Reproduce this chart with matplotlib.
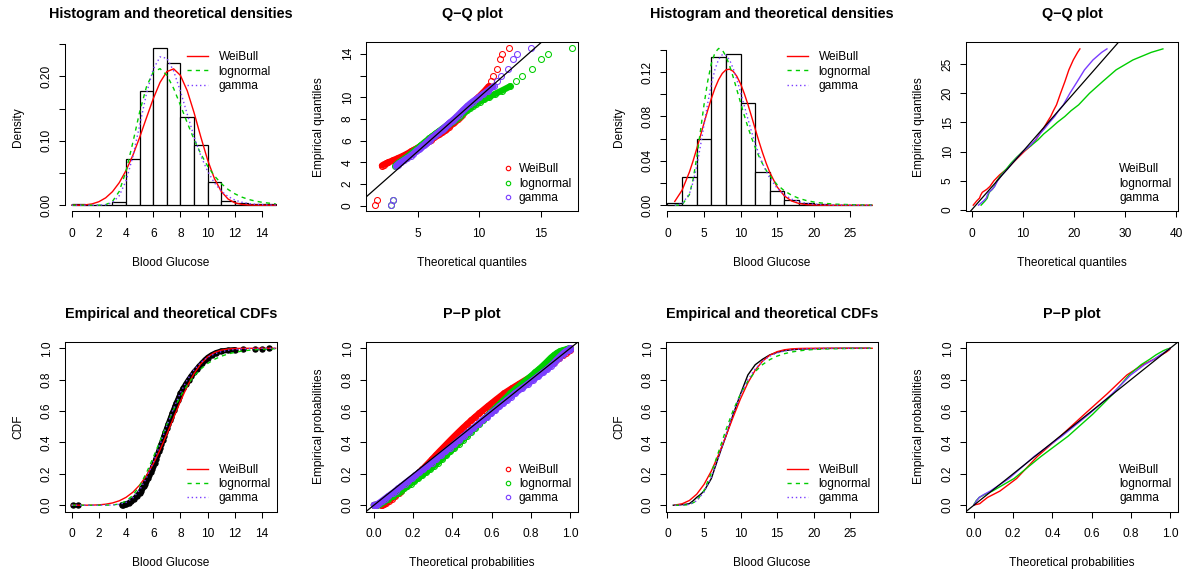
import matplotlib
matplotlib.use("Agg")
import matplotlib.pyplot as plt
from matplotlib.lines import Line2D

plt.rcParams['font.family'] = ['Liberation Sans', 'DejaVu Sans']

# ============================================================
# data
# ============================================================
fit_names = ['WeiBull', 'lognormal', 'gamma']

# ---- sample 1 ----
hist1_breaks = list(range(0, 16))
hist1_density = [0.0026, 0.0, 0.0, 0.0052, 0.072, 0.177, 0.244, 0.221, 0.137,
                 0.094, 0.036, 0.0068, 0.004, 0.0016, 0.0026]

dens1_x = [0, 0.5, 1, 1.5, 2, 2.5, 3, 3.5, 4, 4.5, 5, 5.5, 6, 6.5, 7, 7.5, 8, 8.5,
           9, 9.5, 10, 10.5, 11, 11.5, 12, 12.5, 13, 13.5, 14, 14.5, 15]
weib_dens1 = [0.0, 0.0, 0.0005, 0.0020, 0.0054, 0.0114, 0.0210, 0.0350, 0.0539, 0.0775,
              0.1054, 0.1357, 0.1654, 0.1908, 0.2075, 0.2118, 0.2016, 0.1777, 0.1438,
              0.1058, 0.0701, 0.0413, 0.0214, 0.0096, 0.0037, 0.0012, 0.0003, 0.0001,
              0.0, 0.0, 0.0]
lnorm_dens1 = [0.0, 0.0, 0.0, 0.0, 0.0, 0.0008, 0.0058, 0.0215, 0.0530, 0.0974, 0.1448,
               0.1839, 0.2070, 0.2121, 0.2020, 0.1813, 0.1553, 0.1280, 0.1023, 0.0796,
               0.0607, 0.0455, 0.0336, 0.0245, 0.0177, 0.0127, 0.0090, 0.0064, 0.0045,
               0.0032, 0.0022]
gamma_dens1 = [0.0, 0.0, 0.0, 0.0, 0.0001, 0.0007, 0.0041, 0.0147, 0.0378, 0.0758, 0.1240,
               0.1731, 0.2114, 0.2304, 0.2283, 0.2085, 0.1769, 0.1414, 0.1066, 0.0765,
               0.0526, 0.0347, 0.0220, 0.0135, 0.0081, 0.0047, 0.0026, 0.0014, 0.0008,
               0.0004, 0.0002]

weib_cdf1 = [0.0, 0.0, 0.0001, 0.0007, 0.0024, 0.0065, 0.0144, 0.0282, 0.0503, 0.0828,
             0.1284, 0.1886, 0.2639, 0.3533, 0.4534, 0.5587, 0.6627, 0.7581, 0.8388,
             0.9013, 0.9451, 0.9726, 0.9879, 0.9953, 0.9985, 0.9996, 1.0, 1.0, 1.0, 1.0, 1.0]
lnorm_cdf1 = [0.0, 0.0, 0.0, 0.0, 0.0, 0.0002, 0.0015, 0.0077, 0.0257, 0.0629, 0.1236,
              0.2062, 0.3048, 0.4102, 0.5143, 0.6105, 0.6947, 0.7656, 0.8230, 0.8684,
              0.9033, 0.9297, 0.9494, 0.9638, 0.9742, 0.9818, 0.9872, 0.9910, 0.9937,
              0.9956, 0.9969]
gamma_cdf1 = [0.0, 0.0, 0.0, 0.0, 0.0, 0.0002, 0.0013, 0.0057, 0.0184, 0.0469, 0.0977,
              0.1741, 0.2733, 0.3872, 0.5058, 0.6185, 0.7177, 0.7994, 0.8628, 0.9095,
              0.9423, 0.9643, 0.9785, 0.9874, 0.9928, 0.9960, 0.9978, 0.9988, 0.9994,
              0.9997, 0.9999]

# observations of sample 1 and their empirical probabilities
obs1_x = [0.1, 0.5, 3.7, 3.8, 3.9, 4.0, 4.2, 4.4, 4.6, 4.8,
          5.0, 5.1, 5.2, 5.3, 5.4, 5.5, 5.6, 5.7, 5.8, 5.9, 6.0, 6.1, 6.2, 6.3, 6.4, 6.5,
          6.6, 6.7, 6.8, 6.9, 7.0, 7.1, 7.2, 7.3, 7.4, 7.5, 7.6, 7.7, 7.8, 7.9, 8.0,
          8.2, 8.4, 8.6, 8.8, 9.0, 9.2, 9.4, 9.6, 9.8, 10.0,
          10.3, 10.6, 11.0, 11.5, 12.0, 12.6, 13.5, 14.0, 14.5]
obs1_p = [0.0007, 0.0013, 0.003, 0.004, 0.006, 0.008, 0.015, 0.026, 0.041, 0.059,
          0.080, 0.093, 0.107, 0.122, 0.138, 0.155, 0.172, 0.190, 0.209, 0.229, 0.250,
          0.272, 0.295, 0.319, 0.343, 0.367, 0.392, 0.417, 0.442, 0.467, 0.492, 0.516,
          0.540, 0.563, 0.586, 0.608, 0.630, 0.651, 0.672, 0.692, 0.712,
          0.744, 0.773, 0.800, 0.824, 0.848, 0.868, 0.888, 0.907, 0.925, 0.941,
          0.958, 0.971, 0.982, 0.987, 0.991, 0.995, 0.997, 0.998, 0.9995]

# theoretical quantiles (Q-Q, sample 1)
qq_weib1 = [1.506, 1.733, 2.097, 2.239, 2.455, 2.622, 3.027, 3.434, 3.816, 4.154,
            4.463, 4.626, 4.784, 4.938, 5.088, 5.236, 5.374, 5.510, 5.646, 5.780, 5.914,
            6.048, 6.182, 6.316, 6.446, 6.571, 6.698, 6.823, 6.945, 7.066, 7.184, 7.298,
            7.411, 7.520, 7.629, 7.734, 7.840, 7.942, 8.046, 8.147, 8.250,
            8.422, 8.585, 8.747, 8.900, 9.066, 9.216, 9.381, 9.556, 9.746, 9.944,
            10.203, 10.464, 10.769, 10.961, 11.165, 11.467, 11.710, 11.891, 12.448]
qq_lnorm1 = [2.815, 2.965, 3.193, 3.280, 3.412, 3.513, 3.758, 4.006, 4.244, 4.460,
             4.663, 4.772, 4.881, 4.990, 5.097, 5.205, 5.307, 5.410, 5.515, 5.622, 5.730,
             5.840, 5.952, 6.070, 6.184, 6.296, 6.413, 6.532, 6.650, 6.770, 6.891, 7.008,
             7.128, 7.247, 7.367, 7.489, 7.610, 7.731, 7.856, 7.984, 8.113,
             8.338, 8.559, 8.787, 9.010, 9.260, 9.496, 9.764, 10.064, 10.401, 10.769,
             11.281, 11.829, 12.519, 12.982, 13.505, 14.329, 15.041, 15.603, 17.528]
qq_gamma1 = [2.836, 3.012, 3.273, 3.372, 3.520, 3.632, 3.902, 4.170, 4.419, 4.644,
             4.852, 4.962, 5.070, 5.178, 5.284, 5.390, 5.490, 5.588, 5.688, 5.790, 5.893,
             5.995, 6.101, 6.207, 6.311, 6.414, 6.518, 6.625, 6.730, 6.835, 6.942, 7.043,
             7.147, 7.248, 7.350, 7.453, 7.555, 7.656, 7.759, 7.863, 7.969,
             8.150, 8.326, 8.506, 8.677, 8.871, 9.048, 9.250, 9.470, 9.717, 9.980,
             10.340, 10.714, 11.175, 11.478, 11.812, 12.325, 12.758, 13.092, 14.188]

# theoretical probabilities (P-P, sample 1)
pp_weib1 = [0.0, 0.0, 0.0359, 0.0402, 0.0450, 0.0503, 0.0618, 0.0753, 0.0908, 0.1085,
            0.1284, 0.1393, 0.1507, 0.1627, 0.1754, 0.1886, 0.2025, 0.2170, 0.2321, 0.2478,
            0.2639, 0.2808, 0.2981, 0.3160, 0.3345, 0.3533, 0.3727, 0.3923, 0.4123, 0.4327,
            0.4534, 0.4742, 0.4953, 0.5163, 0.5376, 0.5587, 0.5800, 0.6009, 0.6218, 0.6425,
            0.6627, 0.7023, 0.7401, 0.7754, 0.8085, 0.8388, 0.8661, 0.8903, 0.9115, 0.9297,
            0.9451, 0.9633, 0.9764, 0.9879, 0.9953, 0.9985, 0.9998, 1.0, 1.0, 1.0]
pp_lnorm1 = [0.0, 0.0, 0.0130, 0.0166, 0.0208, 0.0257, 0.0379, 0.0536, 0.0731, 0.0964,
             0.1236, 0.1385, 0.1543, 0.1709, 0.1882, 0.2062, 0.2250, 0.2443, 0.2641, 0.2843,
             0.3048, 0.3256, 0.3465, 0.3678, 0.3890, 0.4102, 0.4314, 0.4524, 0.4733, 0.4939,
             0.5143, 0.5343, 0.5540, 0.5733, 0.5921, 0.6105, 0.6283, 0.6457, 0.6626, 0.6790,
             0.6947, 0.7247, 0.7525, 0.7782, 0.8016, 0.8230, 0.8426, 0.8602, 0.8762, 0.8905,
             0.9033, 0.9200, 0.9341, 0.9494, 0.9638, 0.9742, 0.9830, 0.9910, 0.9937, 0.9956]
pp_gamma1 = [0.0, 0.0, 0.0094, 0.0119, 0.0150, 0.0184, 0.0276, 0.0397, 0.0552, 0.0745,
             0.0977, 0.1108, 0.1248, 0.1405, 0.1566, 0.1741, 0.1922, 0.2114, 0.2313, 0.2518,
             0.2733, 0.2947, 0.3173, 0.3402, 0.3637, 0.3872, 0.4107, 0.4345, 0.4580, 0.4822,
             0.5058, 0.5290, 0.5520, 0.5746, 0.5968, 0.6185, 0.6396, 0.6600, 0.6798, 0.6990,
             0.7177, 0.7523, 0.7841, 0.8129, 0.8387, 0.8628, 0.8833, 0.9012, 0.9168, 0.9302,
             0.9423, 0.9562, 0.9674, 0.9785, 0.9874, 0.9928, 0.9964, 0.9988, 0.9994, 0.9997]

# ---- sample 2 ----
hist2_breaks = list(range(0, 30, 2))
hist2_density = [0.0021, 0.0253, 0.0594, 0.1336, 0.136, 0.092, 0.0295, 0.013, 0.0051,
                 0.0024, 0.0012, 0.0006, 0.0004, 0.0003]

dens2_x = [1, 2, 3, 3.5, 4, 4.5, 5, 5.5, 6, 6.5, 7, 7.5, 8, 8.5, 9, 9.5, 10, 10.5, 11,
           11.5, 12, 12.5, 13, 13.5, 14, 15, 16, 17, 18, 19, 20, 21, 22, 23, 24, 25, 26,
           27, 28]
weib_dens2 = [0.0034, 0.0135, 0.0298, 0.0398, 0.0508, 0.0623, 0.0740, 0.0854, 0.0961,
              0.1055, 0.1132, 0.1188, 0.1220, 0.1226, 0.1206, 0.1161, 0.1094, 0.1008,
              0.0909, 0.0800, 0.0688, 0.0578, 0.0474, 0.0379, 0.0295, 0.0165, 0.0083,
              0.0037, 0.0015, 0.0005, 0.0002, 0.0, 0.0, 0.0, 0.0, 0.0, 0.0, 0.0, 0.0]
lnorm_dens2 = [0.0, 0.0004, 0.0095, 0.0230, 0.0428, 0.0664, 0.0905, 0.1116, 0.1276,
               0.1375, 0.1413, 0.1399, 0.1343, 0.1257, 0.1153, 0.1039, 0.0923, 0.0811,
               0.0705, 0.0608, 0.0520, 0.0442, 0.0374, 0.0315, 0.0265, 0.0185, 0.0129,
               0.0089, 0.0061, 0.0042, 0.0029, 0.0020, 0.0014, 0.0009, 0.0007, 0.0005,
               0.0003, 0.0002, 0.0002]
gamma_dens2 = [0.0, 0.0012, 0.0103, 0.0206, 0.0350, 0.0529, 0.0724, 0.0917, 0.1089,
               0.1225, 0.1315, 0.1357, 0.1353, 0.1309, 0.1231, 0.1132, 0.1018, 0.0898,
               0.0778, 0.0663, 0.0557, 0.0462, 0.0378, 0.0306, 0.0245, 0.0153, 0.0092,
               0.0054, 0.0030, 0.0017, 0.0009, 0.0005, 0.0003, 0.0001, 0.0001, 0.0, 0.0,
               0.0, 0.0]

cdf2_x = [1, 2, 3, 4, 5, 6, 7, 8, 9, 10, 11, 12, 13, 14, 15, 16, 17, 18, 19, 20, 22, 24, 26, 28]
weib_cdf2 = [0.0011, 0.0091, 0.0302, 0.0702, 0.1325, 0.2178, 0.3230, 0.4414, 0.5636,
             0.6793, 0.7799, 0.8599, 0.9178, 0.9559, 0.9785, 0.9905, 0.9963, 0.9987,
             0.9996, 0.9999, 1.0, 1.0, 1.0, 1.0]
lnorm_cdf2 = [0.0, 0.0001, 0.0035, 0.0276, 0.0941, 0.2048, 0.3412, 0.4803, 0.6057,
              0.7096, 0.7908, 0.8517, 0.8960, 0.9278, 0.9501, 0.9656, 0.9763, 0.9837,
              0.9888, 0.9923, 0.9963, 0.9982, 0.9991, 0.9996]
gamma_cdf2 = [0.0, 0.0004, 0.0055, 0.0278, 0.0833, 0.1787, 0.3065, 0.4486, 0.5861,
              0.7048, 0.7992, 0.8690, 0.9177, 0.9500, 0.9705, 0.9830, 0.9905, 0.9947,
              0.9971, 0.9985, 0.9996, 0.9999, 1.0, 1.0]

obs2_x = [0.8, 1.5, 2.0, 2.5, 3.0, 3.5, 4.0, 4.5, 5.0, 6.0, 7.0, 8.0, 9.0, 10.0, 11.0,
          12.0, 13.0, 14.0, 15.0, 16.0, 17.0, 18.0, 20.0, 22.0, 24.0, 25.7, 27.0, 27.6]
obs2_p = [0.00003, 0.001, 0.004, 0.006, 0.010, 0.028, 0.050, 0.068, 0.090, 0.170, 0.310,
          0.440, 0.580, 0.710, 0.830, 0.895, 0.930, 0.958, 0.974, 0.985, 0.9905, 0.9945,
          0.9975, 0.9990, 0.9996, 0.99987, 0.99996, 0.99998]

qq_weib2 = [0.298, 0.958, 1.522, 1.743, 2.067, 2.923, 3.560, 3.955, 4.361, 5.473, 6.883,
            7.988, 9.136, 10.286, 11.593, 12.559, 13.275, 14.076, 14.750, 15.457, 15.999,
            16.599, 17.403, 18.246, 19.019, 19.886, 20.729, 21.184]
qq_lnorm2 = [1.838, 2.589, 3.046, 3.208, 3.438, 4.010, 4.426, 4.686, 4.954, 5.719, 6.778,
             7.704, 8.781, 10.003, 11.607, 12.973, 14.088, 15.468, 16.753, 18.225, 19.455,
             20.931, 23.083, 25.638, 28.267, 31.561, 35.144, 37.433]
qq_gamma2 = [1.337, 2.275, 2.842, 3.041, 3.320, 4.003, 4.488, 4.785, 5.086, 5.922, 7.024,
             7.938, 8.956, 10.048, 11.400, 12.486, 13.334, 14.340, 15.239, 16.230, 17.021,
             17.944, 19.229, 20.672, 22.077, 23.738, 25.443, 26.477]

pp_weib2 = [0.0006, 0.0038, 0.0091, 0.0176, 0.0302, 0.0476, 0.0702, 0.0985, 0.1325,
            0.2178, 0.3230, 0.4414, 0.5636, 0.6793, 0.7799, 0.8599, 0.9178, 0.9559,
            0.9785, 0.9905, 0.9963, 0.9987, 0.9999, 1.0, 1.0, 1.0, 1.0, 1.0]
pp_lnorm2 = [0.0, 0.0, 0.0001, 0.0007, 0.0035, 0.0114, 0.0276, 0.0548, 0.0941, 0.2048,
             0.3412, 0.4803, 0.6057, 0.7096, 0.7908, 0.8517, 0.8960, 0.9278, 0.9501,
             0.9656, 0.9763, 0.9837, 0.9923, 0.9963, 0.9982, 0.9990, 0.9994, 0.9995]
pp_gamma2 = [0.0, 0.0001, 0.0004, 0.0018, 0.0055, 0.0135, 0.0278, 0.0507, 0.0833, 0.1787,
             0.3065, 0.4486, 0.5861, 0.7048, 0.7992, 0.8690, 0.9177, 0.9500, 0.9705,
             0.9830, 0.9905, 0.9947, 0.9985, 0.9996, 0.9999, 1.0, 1.0, 1.0]

# ============================================================
# style
# ============================================================
RED = '#FF0000'
GREEN = '#00CD00'
PURPLE = '#7A3DFF'
cols = [RED, GREEN, PURPLE]
lstyles = ['-', (0, (3, 3)), (0, (1, 2))]

FS = 8.6      # ~12 px
TFS = 10.4    # ~14.4 px
LW = 0.75

W, H = 1185, 569
fig = plt.figure(figsize=(W / 100, H / 100), dpi=100)

col_left = [65, 366, 666, 966]
row_top = [42, 342]
PW, PH = 212, 169.5


def make_ax(c, r):
    l, t = col_left[c], row_top[r]
    return fig.add_axes([l / W, 1 - (t + PH) / H, PW / W, PH / H])


def finish(ax, title, xlabel, ylabel, box=True):
    ax.set_title(title, fontsize=TFS, fontweight='bold', pad=17)
    ax.set_xlabel(xlabel, fontsize=FS, labelpad=12.5)
    ax.set_ylabel(ylabel, fontsize=FS, labelpad=12)
    ax.tick_params(direction='out', length=4.3, width=LW, labelsize=FS)
    ax.tick_params(axis='x', pad=7.5)
    ax.tick_params(axis='y', pad=4.4)
    for lab in ax.get_yticklabels():
        lab.set_rotation(90)
        lab.set_va('center')
    for s in ax.spines.values():
        s.set_linewidth(LW)
    if not box:
        ax.spines['top'].set_visible(False)
        ax.spines['right'].set_visible(False)


def legend_lines(ax, x, y):
    hs = [Line2D([], [], color=c, lw=1.0, ls=s) for c, s in zip(cols, lstyles)]
    ax.legend(hs, fit_names, loc='upper left', bbox_to_anchor=(x, y), frameon=False,
              fontsize=FS, borderpad=0, borderaxespad=0, handlelength=1.75,
              handletextpad=0.9, labelspacing=0.18)


def legend_points(ax, x, y):
    hs = [Line2D([], [], color=c, ls='none', marker='o', mfc='none', ms=3.2, mew=0.8)
          for c in cols]
    ax.legend(hs, fit_names, loc='upper left', bbox_to_anchor=(x, y), frameon=False,
              fontsize=FS, borderpad=0, borderaxespad=0, handlelength=0.8,
              handletextpad=0.53, labelspacing=0.2)


def legend_text(ax, x, y):
    hs = [Line2D([], [], ls='none') for c in cols]
    ax.legend(hs, fit_names, loc='upper left', bbox_to_anchor=(x, y), frameon=False,
              fontsize=FS, borderpad=0, borderaxespad=0, handlelength=0,
              handletextpad=0, labelspacing=0.2)


def circles(ax, x, y, c, band=None):
    # dense over-plotted runs of points read as a solid band
    if band is not None:
        ax.plot(x[band[0]:band[1]], y[band[0]:band[1]], color=c, lw=4.6,
                solid_capstyle='round', solid_joinstyle='round')
    ax.plot(x, y, ls='none', marker='o', mfc='none', mec=c, ms=4.3, mew=0.75)


# ---- panel 1: histogram sample 1 ----
ax = make_ax(0, 0)
ax.bar(hist1_breaks[:-1], hist1_density, width=1, align='edge', color='white',
       edgecolor='black', linewidth=0.9)
for yv, c, s in zip([weib_dens1, lnorm_dens1, gamma_dens1], cols, lstyles):
    ax.plot(dens1_x, yv, color=c, lw=1.0, ls=s)
ax.set_xlim(-0.49, 15.1)
ax.set_ylim(-0.0098, 0.2535)
ax.set_xticks(range(0, 15, 2))
ax.set_yticks([0, 0.05, 0.10, 0.15, 0.20, 0.25], ['0.00', '', '0.10', '', '0.20', ''])
ax.spines['left'].set_bounds(0, 0.25)
ax.spines['bottom'].set_bounds(0, 14)
finish(ax, 'Histogram and theoretical densities', 'Blood Glucose', 'Density', box=False)
legend_lines(ax, 0.575, 0.944)

# ---- panel 2: Q-Q sample 1 ----
ax = make_ax(1, 0)
for xv, c in zip([qq_weib1, qq_lnorm1, qq_gamma1], cols):
    circles(ax, xv, obs1_x, c, band=(2, 54))
ax.axline((0, 0), slope=1, color='black', lw=0.9)
ax.set_xlim(0.8, 18.04)
ax.set_ylim(-0.53, 15.09)
ax.set_xticks([5, 10, 15])
ax.set_yticks(range(0, 15, 2), ['0', '2', '4', '6', '8', '10', '', '14'])
finish(ax, 'Q\u2212Q plot', 'Theoretical quantiles', 'Empirical quantiles')
legend_points(ax, 0.646, 0.284)

# ---- panel 3: histogram sample 2 ----
ax = make_ax(2, 0)
ax.bar(hist2_breaks[:-1], hist2_density, width=2, align='edge', color='white',
       edgecolor='black', linewidth=0.9)
for yv, c, s in zip([weib_dens2, lnorm_dens2, gamma_dens2], cols, lstyles):
    ax.plot(dens2_x, yv, color=c, lw=1.0, ls=s)
ax.set_xlim(-0.2, 28.8)
ax.set_ylim(-0.0057, 0.1471)
ax.set_xticks(range(0, 26, 5))
ax.set_yticks([0, 0.02, 0.04, 0.06, 0.08, 0.10, 0.12, 0.14],
              ['0.00', '', '0.04', '', '0.08', '', '0.12', ''])
ax.spines['left'].set_bounds(0, 0.14)
ax.spines['bottom'].set_bounds(0, 25)
finish(ax, 'Histogram and theoretical densities', 'Blood Glucose', 'Density', box=False)
legend_lines(ax, 0.571, 0.944)

# ---- panel 4: Q-Q sample 2 ----
ax = make_ax(3, 0)
for xv, c in zip([qq_weib2, qq_lnorm2, qq_gamma2], cols):
    ax.plot(xv, obs2_x, color=c, lw=1.0)
ax.axline((0, 0), slope=1, color='black', lw=0.9)
ax.set_xlim(-1.12, 40.39)
ax.set_ylim(-0.29, 28.78)
ax.set_xticks(range(0, 41, 10))
ax.set_yticks(range(0, 26, 5))
finish(ax, 'Q\u2212Q plot', 'Theoretical quantiles', 'Empirical quantiles')
legend_text(ax, 0.722, 0.284)

# ---- panel 5: CDF sample 1 ----
ax = make_ax(0, 1)
ax.plot(obs1_x[2:56], obs1_p[2:56], color='black', lw=3.9, solid_capstyle='round')
ax.plot(obs1_x, obs1_p, ls='none', marker='o', color='black', ms=3.6)
for yv, c, s in zip([weib_cdf1, lnorm_cdf1, gamma_cdf1], cols, lstyles):
    ax.plot(dens1_x, yv, color=c, lw=1.0, ls=s)
ax.set_xlim(-0.49, 15.1)
ax.set_ylim(-0.04, 1.04)
ax.set_xticks(range(0, 15, 2))
ax.set_yticks([0, 0.2, 0.4, 0.6, 0.8, 1.0])
finish(ax, 'Empirical and theoretical CDFs', 'Blood Glucose', 'CDF')
legend_lines(ax, 0.575, 0.282)

# ---- panel 6: P-P sample 1 ----
ax = make_ax(1, 1)
for xv, c in zip([pp_weib1, pp_lnorm1, pp_gamma1], cols):
    circles(ax, xv, obs1_p, c, band=(0, 60))
ax.axline((0, 0), slope=1, color='black', lw=0.9)
ax.set_xlim(-0.04, 1.04)
ax.set_ylim(-0.04, 1.04)
ax.set_xticks([0, 0.2, 0.4, 0.6, 0.8, 1.0])
ax.set_yticks([0, 0.2, 0.4, 0.6, 0.8, 1.0])
finish(ax, 'P\u2212P plot', 'Theoretical probabilities', 'Empirical probabilities')
legend_points(ax, 0.646, 0.282)

# ---- panel 7: CDF sample 2 ----
ax = make_ax(2, 1)
ax.plot(obs2_x, obs2_p, color='black', lw=1.0)
for yv, c, s in zip([weib_cdf2, lnorm_cdf2, gamma_cdf2], cols, lstyles):
    ax.plot(cdf2_x, yv, color=c, lw=1.0, ls=s)
ax.set_xlim(-0.2, 28.8)
ax.set_ylim(-0.04, 1.04)
ax.set_xticks(range(0, 26, 5))
ax.set_yticks([0, 0.2, 0.4, 0.6, 0.8, 1.0])
finish(ax, 'Empirical and theoretical CDFs', 'Blood Glucose', 'CDF')
legend_lines(ax, 0.571, 0.282)

# ---- panel 8: P-P sample 2 ----
ax = make_ax(3, 1)
for xv, c in zip([pp_weib2, pp_lnorm2, pp_gamma2], cols):
    ax.plot(xv, obs2_p, color=c, lw=1.0)
ax.axline((0, 0), slope=1, color='black', lw=0.9)
ax.set_xlim(-0.04, 1.04)
ax.set_ylim(-0.04, 1.04)
ax.set_xticks([0, 0.2, 0.4, 0.6, 0.8, 1.0])
ax.set_yticks([0, 0.2, 0.4, 0.6, 0.8, 1.0])
finish(ax, 'P\u2212P plot', 'Theoretical probabilities', 'Empirical probabilities')
legend_text(ax, 0.722, 0.282)

fig.savefig('out.png', dpi=100)
